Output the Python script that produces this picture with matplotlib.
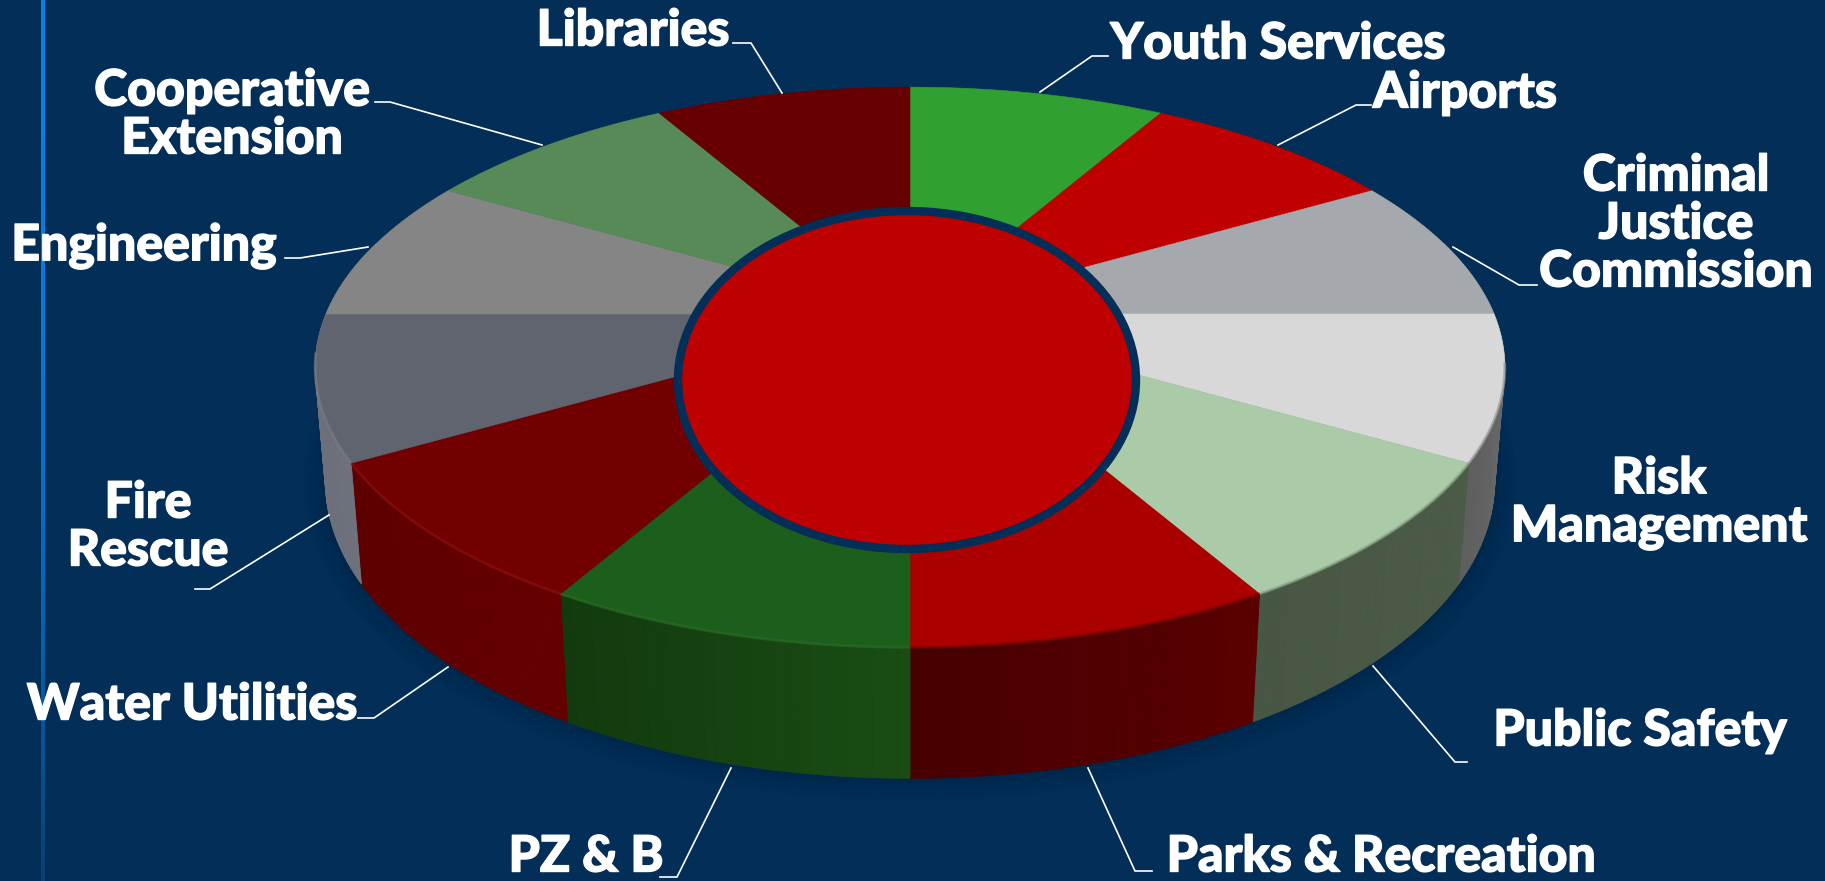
import numpy as np
import matplotlib.pyplot as plt
import matplotlib.patheffects as pe
from matplotlib.patches import Polygon, Ellipse
from matplotlib.colors import to_rgb

# slices clockwise from 12 o'clock, all departments have the same share
departments = ['Youth Services', 'Airports', 'Criminal\nJustice\nCommission', 'Risk\nManagement',
               'Public Safety', 'Parks & Recreation', 'PZ & B', 'Water Utilities',
               'Fire\nRescue', 'Engineering', 'Cooperative\nExtension', 'Libraries']
shares = [1, 1, 1, 1, 1, 1, 1, 1, 1, 1, 1, 1]

top_colors = ['#30a030', '#be0000', '#a5a8ac', '#d8d8d8', '#abcaa8', '#ab0000',
              '#1c5e1c', '#720000', '#60646e', '#858585', '#588a58', '#660000']
side_left = ['#1d601d', '#700000', '#77797d', '#727272', '#4c5c48', '#5a0000',
             '#1a4c14', '#640000', '#6f727c', '#6a6a6a', '#3c5c3c', '#400000']
side_right = ['#1d601d', '#700000', '#77797d', '#5f5f5f', '#475744', '#470000',
              '#123a0e', '#5e0000', '#6c6f79', '#6a6a6a', '#3c5c3c', '#400000']
bevel_colors = ['#30a030', '#be0000', '#a5a8ac', '#8f8f8f', '#7f9a7c', '#7a0000',
                '#2c6e26', '#8c1414', '#7b7e8a', '#858585', '#588a58', '#660000']

# label positions and leader lines, in pixels of the slide
label_xy = [(1278, 44), (1465, 93), (1676, 224), (1659, 503), (1640, 731), (1381, 857),
            (586, 857), (192, 705), (148, 527), (144, 246), (232, 115), (633, 31)]
leaders = [[(1108, 56), (1092, 56), (1040, 92)],
           [(1371, 105), (1356, 105), (1278, 145)],
           [(1537, 285), (1519, 285), (1453, 247)],
           None,
           [(1467, 762), (1455, 762), (1373, 666)],
           [(1152, 871), (1135, 871), (1088, 768)],
           [(660, 877), (677, 877), (731, 768)],
           [(358, 718), (374, 718), (448, 667)],
           [(195, 589), (210, 589), (329, 515)],
           [(285, 258), (300, 258), (368, 247)],
           [(375, 102), (390, 102), (542, 145)],
           [(733, 43), (751, 43), (782, 93)]]

BG = '#022e57'
CX, CY = 910, 314      # where the slices meet
A, B, P = 584, 270, 0.19
DROP, Q = 114, 0.017


def top_point(deg, r=1.0):
    a = np.radians(deg)
    w = 1 + P * r * np.cos(a)
    return CX + A * r * np.sin(a) / w, CY - B * r * np.cos(a) / w


def bottom_point(deg):
    a = np.radians(deg)
    w = 1 + P * np.cos(a) + Q
    return CX + A * np.sin(a) / w, CY + (DROP - B * np.cos(a)) / w


def mix(c1, c2, t):
    return tuple((1 - t) * np.array(to_rgb(c1)) + t * np.array(to_rgb(c2)))


fig = plt.figure(figsize=(18.25, 8.81), dpi=100, facecolor=BG)
ax = fig.add_axes([0, 0, 1, 1])
ax.set_xlim(0, 1825)
ax.set_ylim(881, 0)
ax.axis('off')

# blue rule on the left of the slide, fades out downwards
rule = np.array([mix('#0481e4', '#0a3f73', t) for t in np.linspace(0, 1, 200) ** 2.2])[:, None, :]
ax.imshow(rule, extent=(41, 45, 881, 0), aspect='auto', zorder=1)
ax.set_xlim(0, 1825)
ax.set_ylim(881, 0)

edges = np.concatenate([[0], np.cumsum(shares)]) / sum(shares) * 360

# soft shadow below the disc
arc = np.linspace(90, 270, 120)
bx, by = bottom_point(arc)
for lw in [44, 34, 25, 17, 10, 5]:
    ax.plot(bx, by, color='#001b38', lw=lw * 0.72, alpha=0.06, solid_capstyle='round', zorder=2)

# side wall
for i in range(len(shares)):
    steps = np.arange(edges[i], edges[i + 1], 1.0)
    for j, s in enumerate(steps):
        if s + 1 < 75 or s > 285:
            continue
        t = j / max(len(steps) - 1, 1)
        col = mix(side_left[i], side_right[i], t)
        ang = [s, min(s + 1, edges[i + 1])]
        pts = [top_point(ang[0]), top_point(ang[1]), bottom_point(ang[1]), bottom_point(ang[0])]
        ax.add_patch(Polygon(pts, closed=True, fc=col, ec=col, lw=0.6, zorder=3))

# top face
for i in range(len(shares)):
    arc = np.linspace(edges[i], edges[i + 1], 40)
    x, y = top_point(arc)
    pts = np.column_stack([np.r_[CX, x], np.r_[CY, y]])
    ax.add_patch(Polygon(pts, closed=True, fc=top_colors[i], ec=top_colors[i], lw=0.4, zorder=4))

# lighter rim where the top meets the side
for i in range(len(shares)):
    lo, hi = max(edges[i], 100), min(edges[i + 1], 262)
    if lo >= hi:
        continue
    x, y = top_point(np.linspace(lo, hi, 40))
    ax.plot(x, y, color=bevel_colors[i], lw=2.0, alpha=0.6, solid_capstyle='butt', zorder=5)

# centre
ax.add_patch(Ellipse((907, 380), 458, 338, fc='#bd0000', ec='#022e57', lw=6, zorder=6))

for i, name in enumerate(departments):
    x, y = label_xy[i]
    ax.text(x, y, name, color='white', fontsize=36, family='Lato', fontweight='black',
            ha='center', va='center', linespacing=1.08, zorder=8,
            path_effects=[pe.withStroke(linewidth=1.0, foreground='white')])
    if leaders[i]:
        lx, ly = zip(*leaders[i])
        ax.plot(lx, ly, color='white', lw=1.2, solid_joinstyle='miter', zorder=7)

fig.savefig('out.png', dpi=100, facecolor=BG)
